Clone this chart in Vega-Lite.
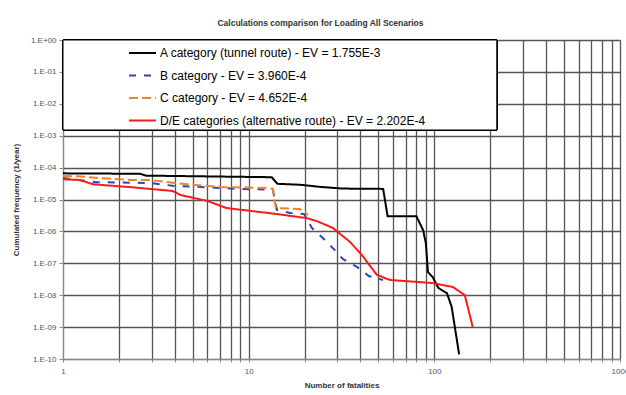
{
  "$schema": "https://vega.github.io/schema/vega-lite/v6.json",
  "autosize": {"type": "none"},
  "padding": {"left": 63, "top": 40, "right": 6, "bottom": 36},
  "width": 557,
  "height": 319,
  "background": "white",
  "config": {
    "font": "Liberation Sans",
    "view": {"stroke": null}
  },
  "title": {
    "text": "Calculations comparison for Loading All Scenarios",
    "fontSize": 8.5,
    "fontWeight": "bold",
    "color": "#333333",
    "offset": 9,
    "dx": -21
  },
  "data": {
    "values": [
      {"series": "A category (tunnel route) - EV = 1.755E-3", "fatalities": 1, "frequency": 6.6e-5},
      {"series": "A category (tunnel route) - EV = 1.755E-3", "fatalities": 2.6, "frequency": 6.4e-5},
      {"series": "A category (tunnel route) - EV = 1.755E-3", "fatalities": 2.8, "frequency": 5.6e-5},
      {"series": "A category (tunnel route) - EV = 1.755E-3", "fatalities": 13.3, "frequency": 5.0e-5},
      {"series": "A category (tunnel route) - EV = 1.755E-3", "fatalities": 14.3, "frequency": 3.1e-5},
      {"series": "A category (tunnel route) - EV = 1.755E-3", "fatalities": 19, "frequency": 2.9e-5},
      {"series": "A category (tunnel route) - EV = 1.755E-3", "fatalities": 24, "frequency": 2.5e-5},
      {"series": "A category (tunnel route) - EV = 1.755E-3", "fatalities": 32, "frequency": 2.2e-5},
      {"series": "A category (tunnel route) - EV = 1.755E-3", "fatalities": 53, "frequency": 2.15e-5},
      {"series": "A category (tunnel route) - EV = 1.755E-3", "fatalities": 56, "frequency": 3.0e-6},
      {"series": "A category (tunnel route) - EV = 1.755E-3", "fatalities": 80, "frequency": 3.0e-6},
      {"series": "A category (tunnel route) - EV = 1.755E-3", "fatalities": 87, "frequency": 1.1e-6},
      {"series": "A category (tunnel route) - EV = 1.755E-3", "fatalities": 90, "frequency": 4.3e-7},
      {"series": "A category (tunnel route) - EV = 1.755E-3", "fatalities": 92.4, "frequency": 5.3e-8},
      {"series": "A category (tunnel route) - EV = 1.755E-3", "fatalities": 98, "frequency": 3.7e-8},
      {"series": "A category (tunnel route) - EV = 1.755E-3", "fatalities": 105, "frequency": 1.7e-8},
      {"series": "A category (tunnel route) - EV = 1.755E-3", "fatalities": 117, "frequency": 1.15e-8},
      {"series": "A category (tunnel route) - EV = 1.755E-3", "fatalities": 124, "frequency": 4.3e-9},
      {"series": "A category (tunnel route) - EV = 1.755E-3", "fatalities": 136, "frequency": 1.4e-10},

      {"series": "B category - EV = 3.960E-4", "fatalities": 1, "frequency": 4.7e-5},
      {"series": "B category - EV = 3.960E-4", "fatalities": 1.49, "frequency": 3.5e-5},
      {"series": "B category - EV = 3.960E-4", "fatalities": 2.94, "frequency": 3.3e-5},
      {"series": "B category - EV = 3.960E-4", "fatalities": 4.0, "frequency": 2.65e-5},
      {"series": "B category - EV = 3.960E-4", "fatalities": 5.5, "frequency": 2.47e-5},
      {"series": "B category - EV = 3.960E-4", "fatalities": 9.0, "frequency": 2.13e-5},
      {"series": "B category - EV = 3.960E-4", "fatalities": 12.7, "frequency": 2.05e-5},
      {"series": "B category - EV = 3.960E-4", "fatalities": 13.5, "frequency": 2.0e-5},
      {"series": "B category - EV = 3.960E-4", "fatalities": 14.2, "frequency": 4.7e-6},
      {"series": "B category - EV = 3.960E-4", "fatalities": 16.7, "frequency": 3.8e-6},
      {"series": "B category - EV = 3.960E-4", "fatalities": 19.9, "frequency": 3.5e-6},
      {"series": "B category - EV = 3.960E-4", "fatalities": 21.9, "frequency": 1.28e-6},
      {"series": "B category - EV = 3.960E-4", "fatalities": 25.1, "frequency": 6.2e-7},
      {"series": "B category - EV = 3.960E-4", "fatalities": 28.4, "frequency": 3.0e-7},
      {"series": "B category - EV = 3.960E-4", "fatalities": 32.2, "frequency": 1.36e-7},
      {"series": "B category - EV = 3.960E-4", "fatalities": 38.3, "frequency": 7.7e-8},
      {"series": "B category - EV = 3.960E-4", "fatalities": 44.4, "frequency": 4.0e-8},
      {"series": "B category - EV = 3.960E-4", "fatalities": 52.9, "frequency": 3.0e-8},

      {"series": "C category - EV = 4.652E-4", "fatalities": 1, "frequency": 5.5e-5},
      {"series": "C category - EV = 4.652E-4", "fatalities": 1.23, "frequency": 5.3e-5},
      {"series": "C category - EV = 4.652E-4", "fatalities": 1.58, "frequency": 4.7e-5},
      {"series": "C category - EV = 4.652E-4", "fatalities": 2.3, "frequency": 4.1e-5},
      {"series": "C category - EV = 4.652E-4", "fatalities": 2.94, "frequency": 4.1e-5},
      {"series": "C category - EV = 4.652E-4", "fatalities": 4.0, "frequency": 3.3e-5},
      {"series": "C category - EV = 4.652E-4", "fatalities": 4.54, "frequency": 3.06e-5},
      {"series": "C category - EV = 4.652E-4", "fatalities": 7.0, "frequency": 2.47e-5},
      {"series": "C category - EV = 4.652E-4", "fatalities": 12.7, "frequency": 2.3e-5},
      {"series": "C category - EV = 4.652E-4", "fatalities": 13.5, "frequency": 2.14e-5},
      {"series": "C category - EV = 4.652E-4", "fatalities": 14.0, "frequency": 5.4e-6},
      {"series": "C category - EV = 4.652E-4", "fatalities": 18.9, "frequency": 5.0e-6},
      {"series": "C category - EV = 4.652E-4", "fatalities": 20.1, "frequency": 3.8e-6},
      {"series": "C category - EV = 4.652E-4", "fatalities": 20.9, "frequency": 3.3e-6},

      {"series": "D/E categories (alternative route) - EV = 2.202E-4", "fatalities": 1, "frequency": 4.3e-5},
      {"series": "D/E categories (alternative route) - EV = 2.202E-4", "fatalities": 1.23, "frequency": 4.1e-5},
      {"series": "D/E categories (alternative route) - EV = 2.202E-4", "fatalities": 1.45, "frequency": 3.0e-5},
      {"series": "D/E categories (alternative route) - EV = 2.202E-4", "fatalities": 2.38, "frequency": 2.4e-5},
      {"series": "D/E categories (alternative route) - EV = 2.202E-4", "fatalities": 3.9, "frequency": 1.85e-5},
      {"series": "D/E categories (alternative route) - EV = 2.202E-4", "fatalities": 4.3, "frequency": 1.38e-5},
      {"series": "D/E categories (alternative route) - EV = 2.202E-4", "fatalities": 6.0, "frequency": 9.0e-6},
      {"series": "D/E categories (alternative route) - EV = 2.202E-4", "fatalities": 7.6, "frequency": 5.4e-6},
      {"series": "D/E categories (alternative route) - EV = 2.202E-4", "fatalities": 10.2, "frequency": 4.4e-6},
      {"series": "D/E categories (alternative route) - EV = 2.202E-4", "fatalities": 14.2, "frequency": 3.5e-6},
      {"series": "D/E categories (alternative route) - EV = 2.202E-4", "fatalities": 20.6, "frequency": 2.6e-6},
      {"series": "D/E categories (alternative route) - EV = 2.202E-4", "fatalities": 23.3, "frequency": 2.1e-6},
      {"series": "D/E categories (alternative route) - EV = 2.202E-4", "fatalities": 28.4, "frequency": 1.28e-6},
      {"series": "D/E categories (alternative route) - EV = 2.202E-4", "fatalities": 35.1, "frequency": 4.7e-7},
      {"series": "D/E categories (alternative route) - EV = 2.202E-4", "fatalities": 40.7, "frequency": 1.82e-7},
      {"series": "D/E categories (alternative route) - EV = 2.202E-4", "fatalities": 49.1, "frequency": 4.3e-8},
      {"series": "D/E categories (alternative route) - EV = 2.202E-4", "fatalities": 57.7, "frequency": 3.0e-8},
      {"series": "D/E categories (alternative route) - EV = 2.202E-4", "fatalities": 98, "frequency": 2.4e-8},
      {"series": "D/E categories (alternative route) - EV = 2.202E-4", "fatalities": 126, "frequency": 1.8e-8},
      {"series": "D/E categories (alternative route) - EV = 2.202E-4", "fatalities": 146, "frequency": 1.0e-8},
      {"series": "D/E categories (alternative route) - EV = 2.202E-4", "fatalities": 161, "frequency": 1.0e-9}
    ]
  },
  "layer": [
    {
      "description": "Framed white panel behind the legend, spanning the upper-left corner of the plot",
      "mark": {"type": "rect", "fill": "white", "stroke": "#000000", "strokeWidth": 1},
      "encoding": {
        "x": {"datum": 1, "type": "quantitative", "title": "Number of fatalities"},
        "x2": {"datum": 217},
        "y": {"datum": 1, "type": "quantitative", "title": "Cumulated frequency (1/year)"},
        "y2": {"datum": 0.00151}
      }
    },
    {
      "mark": {"type": "line", "interpolate": "linear", "strokeWidth": 2},
      "encoding": {
        "x": {
          "field": "fatalities",
          "type": "quantitative",
          "scale": {"type": "log", "domain": [1, 1000], "nice": false},
          "title": "Number of fatalities",
          "axis": {
            "titleFontSize": 8,
            "titleFontWeight": "bold",
            "titleColor": "#333333",
            "titlePadding": 6,
            "values": [1, 2, 3, 4, 5, 6, 7, 8, 9, 10, 20, 30, 40, 50, 60, 70, 80, 90, 100, 200, 300, 400, 500, 600, 700, 800, 900, 1000],
            "labelExpr": "indexof([1, 10, 100, 1000], datum.value) >= 0 ? format(datum.value, 'd') : ''",
            "labelFontSize": 8,
            "labelColor": "#555555",
            "labelPadding": 5,
            "labelFlush": false,
            "labelOverlap": false,
            "tickSize": 3,
            "tickColor": "#888888",
            "domainColor": "#888888",
            "grid": true,
            "gridColor": "#555555",
            "gridWidth": 1.3
          }
        },
        "y": {
          "field": "frequency",
          "type": "quantitative",
          "scale": {"type": "log", "domain": [1e-10, 1], "nice": false},
          "title": "Cumulated frequency (1/year)",
          "axis": {
            "titleFontSize": 8,
            "titleFontWeight": "bold",
            "titleColor": "#333333",
            "titlePadding": 10,
            "values": [1e-10, 1e-9, 1e-8, 1e-7, 1e-6, 1e-5, 1e-4, 1e-3, 1e-2, 1e-1, 1],
            "labelExpr": "'1.E' + (datum.value >= 1 ? '+00' : '-' + (round(-log(datum.value) / LN10) < 10 ? '0' : '') + round(-log(datum.value) / LN10))",
            "labelFontSize": 8,
            "labelColor": "#555555",
            "labelPadding": 3,
            "labelFlush": false,
            "labelOverlap": false,
            "tickSize": 4,
            "tickColor": "#888888",
            "domainColor": "#888888",
            "grid": true,
            "gridColor": "#555555",
            "gridWidth": 1.3
          }
        },
        "color": {
          "field": "series",
          "type": "nominal",
          "scale": {
            "domain": [
              "A category (tunnel route) - EV = 1.755E-3",
              "B category - EV = 3.960E-4",
              "C category - EV = 4.652E-4",
              "D/E categories (alternative route) - EV = 2.202E-4"
            ],
            "range": ["#000000", "#2846b4", "#f58025", "#ff1a1a"]
          },
          "legend": {
            "title": null,
            "orient": "none",
            "legendX": 0,
            "legendY": 0,
            "padding": 6,
            "clipHeight": 14,
            "symbolType": "stroke",
            "symbolSize": 729,
            "symbolStrokeWidth": 2,
            "symbolOffset": 59,
            "labelOffset": 3,
            "labelFontSize": 12,
            "labelColor": "#000000",
            "labelLimit": 500,
            "rowPadding": 8.5
          }
        },
        "strokeDash": {
          "field": "series",
          "type": "nominal",
          "scale": {
            "domain": [
              "A category (tunnel route) - EV = 1.755E-3",
              "B category - EV = 3.960E-4",
              "C category - EV = 4.652E-4",
              "D/E categories (alternative route) - EV = 2.202E-4"
            ],
            "range": [[1, 0], [7, 8], [9, 4], [1, 0]]
          },
          "legend": {
            "title": null,
            "orient": "none",
            "legendX": 0,
            "legendY": 0,
            "padding": 6,
            "clipHeight": 14,
            "symbolType": "stroke",
            "symbolSize": 729,
            "symbolStrokeWidth": 2,
            "symbolOffset": 59,
            "labelOffset": 3,
            "labelFontSize": 12,
            "labelColor": "#000000",
            "labelLimit": 500,
            "rowPadding": 8.5
          }
        }
      }
    }
  ]
}
